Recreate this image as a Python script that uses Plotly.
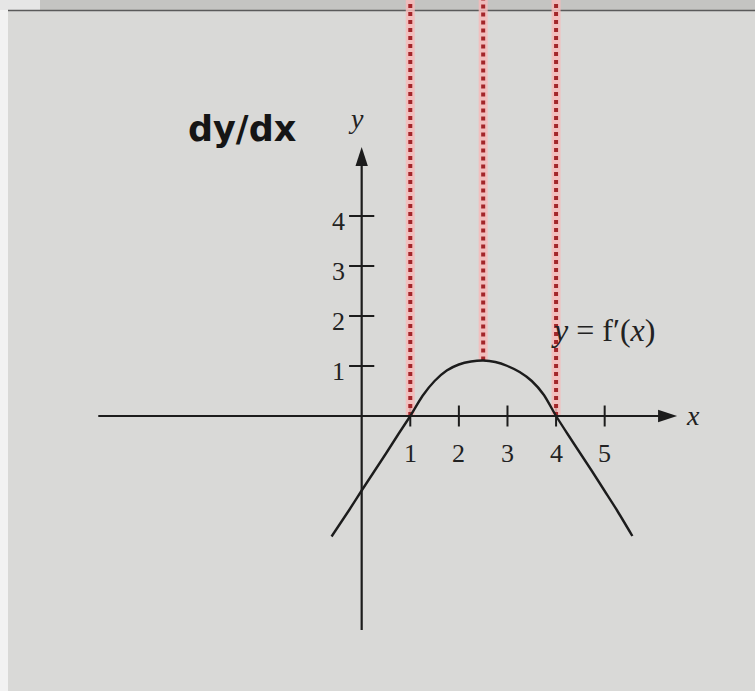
import plotly.graph_objects as go

# y = f'(x), sampled along the printed curve
curve_x = [-0.62, -0.25, 0.0, 0.25, 0.5, 0.75, 1.0, 1.25, 1.5, 1.75, 2.0, 2.25, 2.5,
           2.75, 3.0, 3.25, 3.5, 3.75, 4.0, 4.25, 4.5, 4.75, 5.0, 5.25, 5.57]
curve_y = [-2.41, -1.87, -1.49, -1.12, -0.75, -0.37, 0.0, 0.40, 0.70, 0.91, 1.03, 1.09, 1.11,
           1.08, 1.0, 0.88, 0.70, 0.42, 0.0, -0.38, -0.75, -1.12, -1.5, -1.88, -2.4]

# red guide lines: where f'(x) = 0 and where f'(x) peaks
guide_x = [1.0, 2.5, 4.0]

x_ticks = [1, 2, 3, 4, 5]
y_ticks = [1, 2, 3, 4]
x_tick_labels = ["1", "2", "3", "4", "5"]
y_tick_labels = ["1", "2", "3", "4"]

# axis extents (data units)
x_axis_span = [-5.42, 6.49]
y_axis_span = [-4.28, 5.38]

# visible window
X_RANGE = [-7.442, 8.093]
Y_RANGE = [-5.5, 8.32]

INK = "#1c1c1c"
TEXT = "#222222"
SERIF = "Liberation Serif, DejaVu Serif, serif"

fig = go.Figure()

# paper background and photo edges
shapes = [
    dict(type="rect", xref="paper", yref="paper", x0=0, x1=1, y0=0, y1=1,
         fillcolor="#d9d9d7", line=dict(width=0), layer="below"),
    dict(type="rect", xref="paper", yref="paper", x0=0, x1=8 / 755, y0=0, y1=1,
         fillcolor="#f2f2f2", line=dict(width=0), layer="below"),
    dict(type="rect", xref="paper", yref="paper", x0=0, x1=1, y0=1 - 10 / 691, y1=1,
         fillcolor="#c4c4c2", line=dict(width=0), layer="below"),
    dict(type="rect", xref="paper", yref="paper", x0=0, x1=40 / 755, y0=1 - 10 / 691, y1=1,
         fillcolor="#e6e6e6", line=dict(width=0), layer="below"),
    dict(type="line", xref="paper", yref="paper", x0=8 / 755, x1=1,
         y0=1 - 10.5 / 691, y1=1 - 10.5 / 691,
         line=dict(color="#5a5a5a", width=1.5), layer="below"),
]

# axes
shapes.append(dict(type="line", xref="x", yref="y", x0=x_axis_span[0], x1=x_axis_span[1] - 0.3,
                   y0=0, y1=0, line=dict(color=INK, width=2.2)))
shapes.append(dict(type="line", xref="x", yref="y", x0=0, x1=0,
                   y0=y_axis_span[0], y1=y_axis_span[1] - 0.3, line=dict(color=INK, width=2.2)))
fig.update_layout(shapes=shapes)

# arrowheads at the axis tips
fig.add_trace(go.Scatter(x=[x_axis_span[1]], y=[0], mode="markers", hoverinfo="skip",
                         marker=dict(symbol="arrow", size=20, angle=90, color=INK,
                                     line=dict(width=0))))
fig.add_trace(go.Scatter(x=[0], y=[y_axis_span[1]], mode="markers", hoverinfo="skip",
                         marker=dict(symbol="arrow", size=20, angle=0, color=INK,
                                     line=dict(width=0))))

# tick marks
fig.add_trace(go.Scatter(x=x_ticks, y=[0] * len(x_ticks), mode="markers", hoverinfo="skip",
                         marker=dict(symbol="line-ns", size=15, line=dict(color=INK, width=2))))
fig.add_trace(go.Scatter(x=[0] * len(y_ticks), y=y_ticks, mode="markers", hoverinfo="skip",
                         marker=dict(symbol="line-ew", size=18, line=dict(color=INK, width=2))))

# red dotted guides from the top edge down to the curve
for gx in guide_x:
    gy = curve_y[curve_x.index(gx)]
    fig.add_trace(go.Scatter(x=[gx, gx], y=[gy, Y_RANGE[1]], mode="lines", hoverinfo="skip",
                             line=dict(color="rgba(246,186,186,0.85)", width=9)))
    fig.add_trace(go.Scatter(x=[gx, gx], y=[gy, Y_RANGE[1]], mode="lines", hoverinfo="skip",
                             line=dict(color="#a3262a", width=4, dash="4px,4px")))

# the derivative curve
fig.add_trace(go.Scatter(x=curve_x, y=curve_y, mode="lines", hoverinfo="skip",
                         line=dict(color=INK, width=2.4, shape="spline", smoothing=0.6)))

annotations = []
for tx, lab in zip(x_ticks, x_tick_labels):
    annotations.append(dict(x=tx, y=0, text=lab, showarrow=False, yshift=-37,
                            font=dict(family=SERIF, size=26, color=TEXT)))
for ty, lab in zip(y_ticks, y_tick_labels):
    annotations.append(dict(x=0, y=ty, text=lab, showarrow=False, xshift=-23, yshift=-5,
                            font=dict(family=SERIF, size=26, color=TEXT)))

annotations += [
    dict(x=0, y=y_axis_span[1], text="<i>y</i>", showarrow=False, xshift=-6, yshift=29,
         font=dict(family=SERIF, size=28, color=TEXT)),
    dict(x=x_axis_span[1], y=0, text="<i>x</i>", showarrow=False, xshift=16, yshift=1,
         font=dict(family=SERIF, size=28, color=TEXT)),
    dict(x=4.0, y=1.72, text="<i>y</i> = f\u2032(<i>x</i>)", showarrow=False, xanchor="left",
         xshift=-7, font=dict(family=SERIF, size=32, color=TEXT)),
    dict(x=-2.45, y=5.75, text="<b>dy/dx</b>", showarrow=False,
         font=dict(family="DejaVu Sans, sans-serif", size=35, color="#151515")),
]

fig.update_layout(
    width=755, height=691,
    margin=dict(l=0, r=0, t=0, b=0),
    paper_bgcolor="#f2f2f2",
    plot_bgcolor="rgba(0,0,0,0)",
    showlegend=False,
    xaxis=dict(range=X_RANGE, visible=False, fixedrange=True),
    yaxis=dict(range=Y_RANGE, visible=False, fixedrange=True),
    annotations=annotations,
)

fig.write_html("out.html")
